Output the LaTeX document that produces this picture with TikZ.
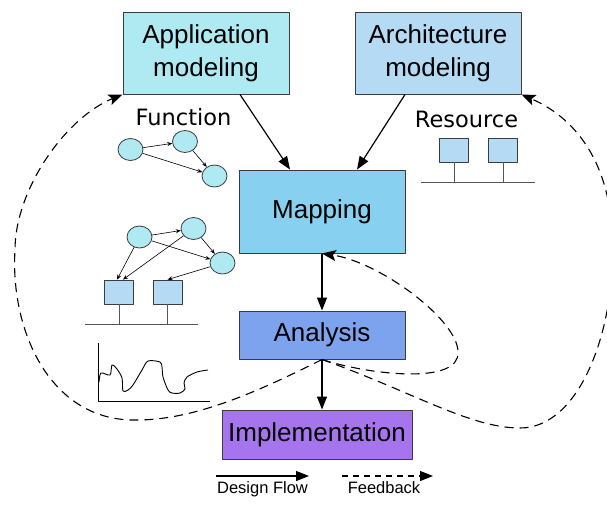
\documentclass[tikz,border=0pt]{standalone}
\usepackage{fontspec}
\newfontfamily\boxfont{Liberation Sans}
\newfontfamily\labelfont{DejaVu Sans}
\usetikzlibrary{arrows.meta, shapes.geometric}

\definecolor{appfill}{RGB}{175,234,243}
\definecolor{archfill}{RGB}{180,218,244}
\definecolor{mapfill}{RGB}{136,208,240}
\definecolor{anafill}{RGB}{125,163,238}
\definecolor{implfill}{RGB}{166,116,236}
\definecolor{edgegray}{RGB}{60,60,60}
\definecolor{busgray}{RGB}{85,85,85}

\begin{document}
\begin{tikzpicture}[x=1pt, y=-1pt, line join=round,
box/.style={draw=edgegray, line width=1pt, inner sep=0pt, minimum width=166pt, align=center,
font={\boxfont\fontsize{26}{33}\selectfont}},
fun/.style={ellipse, draw=edgegray, fill=appfill, line width=0.8pt, minimum width=25pt,
minimum height=22pt, inner sep=0pt},
res/.style={draw=edgegray, fill=archfill, line width=0.8pt, minimum width=29pt,
minimum height=24pt, inner sep=0pt},
flow/.style={-{Triangle[length=13pt,width=10pt]}, line width=1.2pt},
feedback/.style={-{Stealth[length=14pt,width=11pt,inset=3pt]}, dash pattern=on 9pt off 6pt,
line width=1.1pt},
dep/.style={-{Stealth[length=5pt,width=4pt]}, line width=0.6pt},
bus/.style={draw=busgray, line width=1pt},
legend/.style={anchor=base, inner sep=0pt, font={\boxfont\fontsize{16.5}{18}\selectfont}},
caption/.style={anchor=base, inner sep=0pt, font={\labelfont\fontsize{22.5}{26}\selectfont}}
]
\useasboundingbox (0,0) rectangle (607,504);
\clip (0,0) rectangle (607,504);

% design steps
\path
(206,53) node[box, fill=appfill, minimum height=82pt] (app) {Application\\modeling}
(438,53) node[box, fill=archfill, minimum height=82pt] (arch) {Architecture\\modeling}
(322,211.5) node[box, fill=mapfill, minimum height=83pt] (map) {Mapping}
(322,335) node[box, fill=anafill, minimum height=48pt] (ana) {Analysis}
(317,434.5) node[box, fill=implfill, minimum width=190pt, minimum height=49pt] (impl) {Implementation}
;

% design flow
\begin{scope}[flow]
\draw ([xshift=34pt]app.south) -- ([xshift=-32pt]map.north) ;
\draw ([xshift=-33pt]arch.south) -- ([xshift=35pt]map.north) ;
\draw (map) -- (ana) ;
\draw (ana.south) -- (ana.south |- impl.north) ;
\end{scope}

% feedback
\begin{scope}[feedback]
\draw (ana.south) .. controls (263,389) and (197,420) .. (137,420)
.. controls (50,422) and (10,330) .. (15,250)
.. controls (15,190) and (65,118) .. (app.south west) ;
\draw (ana.south) .. controls (413,392) and (470,428) .. (520,428)
.. controls (580,428) and (614,330) .. (612,250)
.. controls (614,170) and (580,120) .. (arch.south east) ;
\draw (ana.south) .. controls (370,375) and (460,385) .. (458,352)
.. controls (458,320) and (380,262) .. (map.south) ;
\end{scope}

% function graph
\node[caption] (funlabel) at (183.5,125) {Function};
\path
(130.5,149.5) node[fun] (f1) {}
(185,141.5) node[fun] (f2) {}
(214.5,176) node[fun] (f3) {}
;
\begin{scope}[dep]
\draw (f1) -- (f2) ;
\draw (f1) -- (f3) ;
\draw (f2) -- (f3) ;
\end{scope}

% resources
\node[caption] (reslabel) at (466.5,127) {Resource};
\path
(454,150) node[res] (r1) {}
(503,150) node[res] (r2) {}
;
\coordinate (rbusl) at (421,182);
\coordinate (rbusr) at (535,182);
\draw[bus] (rbusl) -- (rbusr) ;
\draw[bus] (r1) -- (r1 |- rbusl) ;
\draw[bus] (r2) -- (r2 |- rbusl) ;

% mapped graph
\path
(139.5,237) node[fun] (m1) {}
(193.5,228.5) node[fun] (m2) {}
(222.5,263) node[fun] (m3) {}
(119,292) node[res] (b1) {}
(167.5,292) node[res] (b2) {}
;
\coordinate (mbusl) at (85,324);
\coordinate (mbusr) at (198,324);
\draw[bus] (mbusl) -- (mbusr) ;
\draw[bus] (b1) -- (b1 |- mbusl) ;
\draw[bus] (b2) -- (b2 |- mbusl) ;
\begin{scope}[dep]
\draw (m1) -- (m2) ;
\draw (m2) -- (m3) ;
\draw (m1) -- (m3) ;
\draw (m1) -- ([xshift=-2pt]b1.north) ;
\draw (m2) -- ([xshift=4pt]b1.north) ;
\draw (m3) -- (b2.north) ;
\end{scope}

% analysis result
\draw[line width=0.9pt] (98,343) -- (98,401) -- (210,401) ;
\draw[line width=0.9pt] plot[smooth, tension=0.5] coordinates {(99,382) (101,373) (110,375) (112,365)
(117,369) (122,378) (123,391) (128,390) (133,385) (142,370) (148,361) (160,362) (162,367)
(163,377) (168,390) (172,393) (180,393) (185,389) (184,383) (187,377) (197,372) (208,370)} ;

% legend
\coordinate (df0) at (216,476);
\coordinate (df1) at (309,476);
\coordinate (fb0) at (342,476);
\coordinate (fb1) at (433,476);
\draw[line width=1.1pt, -{Triangle[length=13pt,width=10pt]}] (df0) -- (df1) ;
\draw[line width=1.1pt, dash pattern=on 6pt off 5pt, -{Triangle[length=13pt,width=10pt]}] (fb0) -- (fb1) ;
\node[legend] (dflabel) at (262.5,493) {Design Flow};
\node[legend] (fblabel) at (384,493) {Feedback};

\end{tikzpicture}
\end{document}
